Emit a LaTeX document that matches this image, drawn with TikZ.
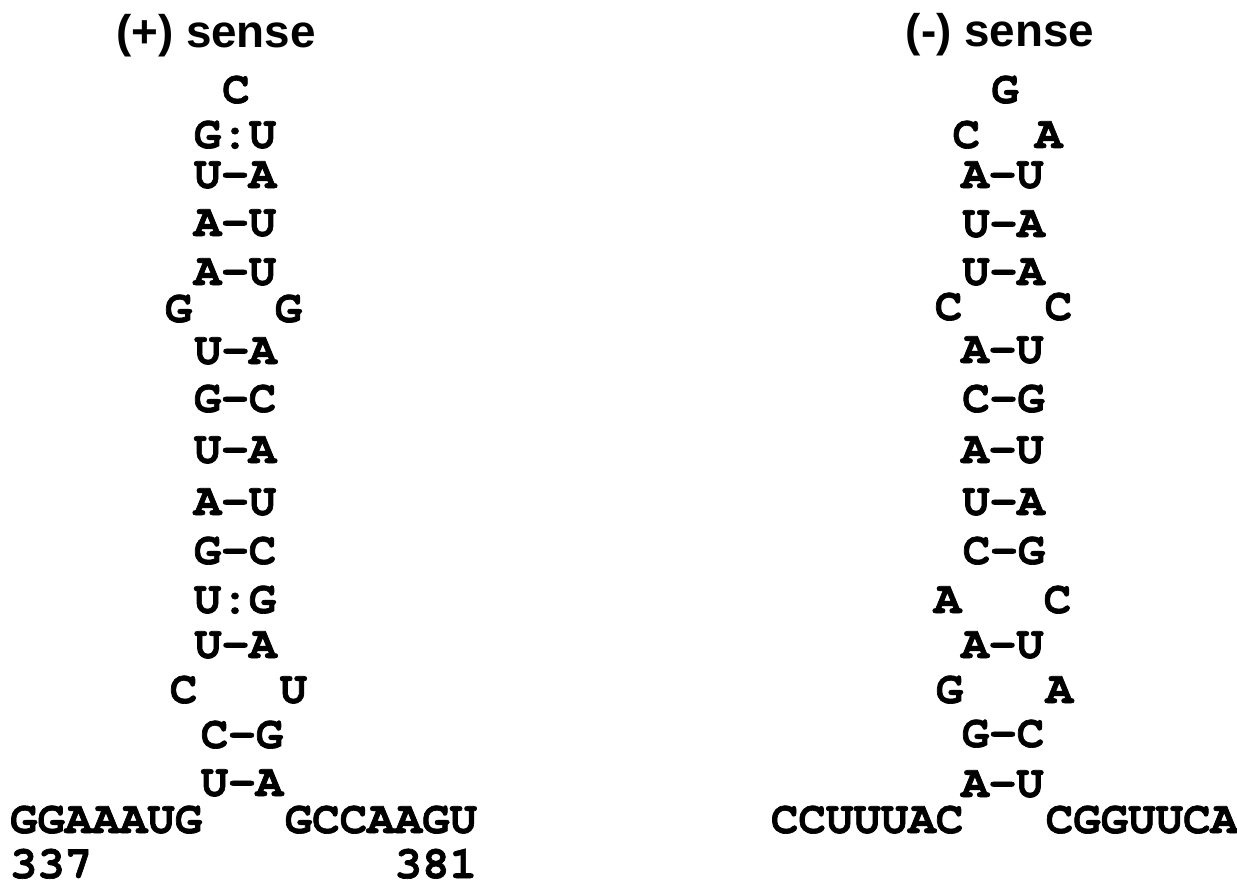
\documentclass[tikz,border=0pt]{standalone}
\usepackage{fontspec}
\newfontfamily\cour{texgyrecursor-bold}[Extension=.otf,FakeBold=1.5]
\setsansfont{Liberation Sans}
\begin{document}
\begin{tikzpicture}[x=1pt,y=-1pt,
  nt/.style={inner sep=0pt,anchor=base,font=\fontsize{45.8}{50}\selectfont\cour\bfseries},
  ttl/.style={inner sep=0pt,anchor=base,font=\fontsize{45.8}{50}\selectfont\sffamily\bfseries}]
\useasboundingbox (0,0) rectangle (1237,880);
% (+) sense
\node[ttl] (t1) at (216,48) {(+) sense};
\node[nt] (p1) at (236,103) {C};
\node[nt] (p2) at (235,148) {G:U};
\node[nt] (p3) at (235,188) {U-A};
\node[nt] (p4) at (235,236) {A-U};
\node[nt] (p5) at (235,285) {A-U};
\node[nt] (p6) at (233.5,322) {G\ \ \ G};
\node[nt] (p7) at (235.5,364) {U-A};
\node[nt] (p8) at (235,412) {G-C};
\node[nt] (p9) at (235,463) {U-A};
\node[nt] (p10) at (235,515) {A-U};
\node[nt] (p11) at (235,564) {G-C};
\node[nt] (p12) at (235,613) {U:G};
\node[nt] (p13) at (235.5,658) {U-A};
\node[nt] (p14) at (238.5,703) {C\ \ \ U};
\node[nt] (p15) at (242,748) {C-G};
\node[nt] (p16) at (242,796) {U-A};
\node[nt] (p17) at (243.5,833) {GGAAAUG\ \ \ GCCAAGU};
\node[nt] (p18) at (243.5,878) {337\ \ \ \ \ \ \ \ \ \ \ 381};
% (-) sense
\node[ttl] (t2) at (1000,47) {(-) sense};
\node[nt] (m1) at (1005,103) {G};
\node[nt] (m2) at (1007.5,148) {C\ \ A};
\node[nt] (m3) at (1002.5,188) {A-U};
\node[nt] (m4) at (1003.5,237) {U-A};
\node[nt] (m5) at (1003.5,285) {U-A};
\node[nt] (m6) at (1003.5,320) {C\ \ \ C};
\node[nt] (m7) at (1002.5,363) {A-U};
\node[nt] (m8) at (1003.5,412) {C-G};
\node[nt] (m9) at (1002.5,463) {A-U};
\node[nt] (m10) at (1003.5,515) {U-A};
\node[nt] (m11) at (1004,564) {C-G};
\node[nt] (m12) at (1002.5,613) {A\ \ \ C};
\node[nt] (m13) at (1002.5,658) {A-U};
\node[nt] (m14) at (1004.5,703) {G\ \ \ A};
\node[nt] (m15) at (1003,747) {G-C};
\node[nt] (m16) at (1002.5,797) {A-U};
\node[nt] (m17) at (1004.5,833) {CCUUUAC\ \ \ CGGUUCA};
\end{tikzpicture}
\end{document}
